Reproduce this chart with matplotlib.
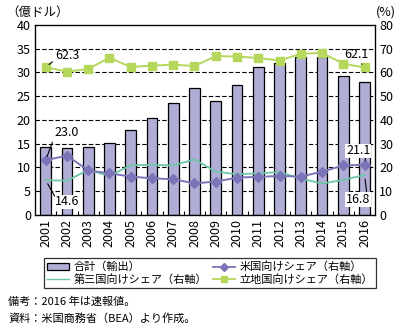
import matplotlib
matplotlib.use("Agg")
import matplotlib.pyplot as plt
from matplotlib.lines import Line2D
from matplotlib.patches import Patch

plt.rcParams['font.family'] = ['Noto Sans CJK JP', 'DejaVu Sans']

# データ
years = [str(y) for y in range(2001, 2017)]
total_export = [14.3, 14.0, 14.2, 15.1, 17.8, 20.4, 23.5, 26.7,
                24.0, 27.3, 31.1, 31.9, 33.2, 33.2, 29.2, 27.9]
us_share = [23.0, 25.0, 18.7, 17.5, 16.1, 15.4, 15.0, 13.3,
            14.0, 15.7, 16.0, 16.4, 16.1, 18.2, 20.8, 21.1]
third_share = [14.6, 14.4, 18.9, 16.4, 20.9, 21.1, 20.8, 23.4,
               18.2, 17.1, 17.5, 18.0, 15.3, 13.2, 14.7, 16.8]
local_share = [62.3, 60.3, 61.5, 66.2, 62.3, 62.9, 63.3, 62.7,
               66.9, 66.7, 66.1, 65.0, 67.9, 68.2, 63.7, 62.1]

bar_c = '#b0aed6'
us_c = '#7b74b8'
third_c = '#6cc7a8'
local_c = '#b5d75c'
fs = 9
fs_small = 8

fig = plt.figure(figsize=(4.03, 3.29), dpi=100)
ax = fig.add_axes([0.087, 0.347, 0.844, 0.577])
x = list(range(len(years)))

ax.bar(x, total_export, width=0.5, color=bar_c, edgecolor='black', linewidth=0.9, zorder=2)
ax.set_ylim(0, 40)
ax.set_yticks(range(0, 41, 5))
ax.set_xlim(-0.5, len(years) - 0.5)
ax.set_xticks(x)
ax.set_xticks([i + 0.5 for i in x[:-1]], minor=True)
ax.set_xticklabels(years, rotation=90, fontsize=fs)
ax.tick_params(axis='y', labelsize=fs, length=0, pad=3)
ax.tick_params(axis='x', which='major', length=0, pad=3)
ax.tick_params(axis='x', which='minor', length=3, direction='in', width=0.8)
for v in range(5, 40, 5):
    ax.axhline(v, color='black', linestyle=(0, (4, 2)), linewidth=0.8, zorder=1)
for s in ax.spines.values():
    s.set_linewidth(0.9)
ax.text(-0.085, 1.035, '（億ドル）', transform=ax.transAxes, fontsize=fs, ha='left', va='bottom')

ax2 = ax.twinx()
ax2.set_ylim(0, 80)
ax2.set_yticks(range(0, 81, 10))
ax2.tick_params(axis='y', labelsize=fs, length=0, pad=3)
ax2.plot(x, third_share, color=third_c, linewidth=1.3, zorder=3)
ax2.plot(x, us_share, color=us_c, linewidth=1.4, marker='D', markersize=5, zorder=4)
ax2.plot(x, local_share, color=local_c, linewidth=1.4, marker='s', markersize=6, zorder=5)
ax2.text(1.03, 1.035, '(%)', transform=ax.transAxes, fontsize=fs, ha='center', va='bottom')

# ラベル
box = dict(boxstyle='square,pad=0.05', facecolor='white', edgecolor='none')


def label(xy, xytext, text, rel, ha='left', bbox=None):
    ax2.annotate(text, xy=xy, xytext=xytext, fontsize=fs, ha=ha, va='center', bbox=bbox,
                 zorder=6,
                 arrowprops=dict(arrowstyle='-', color='black', lw=0.8, shrinkA=0, shrinkB=3,
                                 relpos=rel))


label((x[0], local_share[0]), (0.45, 67.0), f'{local_share[0]:.1f}', (0.0, 0.2))
label((x[-1], local_share[-1]), (14.6, 67.5), f'{local_share[-1]:.1f}', (0.6, 0.1), ha='center')
label((x[0], us_share[0]), (0.4, 34.5), f'{us_share[0]:.1f}', (0.0, 0.15))
label((x[0], third_share[0]), (0.45, 5.5), f'{third_share[0]:.1f}', (0.0, 0.85), bbox=box)
label((x[-1], us_share[-1]), (14.7, 27.0), f'{us_share[-1]:.1f}', (0.8, 0.0), ha='center', bbox=box)
label((x[-1], third_share[-1]), (14.7, 6.5), f'{third_share[-1]:.1f}', (0.85, 1.0), ha='center', bbox=box)

handles = [
    Patch(facecolor=bar_c, edgecolor='black', linewidth=0.9),
    Line2D([], [], color=third_c, linewidth=1.0),
    Line2D([], [], color=us_c, marker='D', markersize=4, linewidth=1.3),
    Line2D([], [], color=local_c, marker='s', markersize=5, linewidth=1.3),
]
labels = ['合計（輸出）', '第三国向けシェア（右軸）', '米国向けシェア（右軸）', '立地国向けシェア（右軸）']
leg = fig.legend(handles, labels, ncol=2, loc='upper left', bbox_to_anchor=(0.095, 0.232),
                 fontsize=fs_small, frameon=True, fancybox=False, edgecolor='black',
                 handlelength=2.0, handletextpad=0.4, columnspacing=0.5,
                 borderpad=0.3, labelspacing=0.15)
leg.get_frame().set_linewidth(0.9)

fig.text(0.02, 0.082, '備考：2016 年は速報値。', fontsize=fs_small, ha='left', va='center')
fig.text(0.02, 0.032, '資料：米国商務省（BEA）より作成。', fontsize=fs_small, ha='left', va='center')

fig.savefig('out.png', dpi=100)
